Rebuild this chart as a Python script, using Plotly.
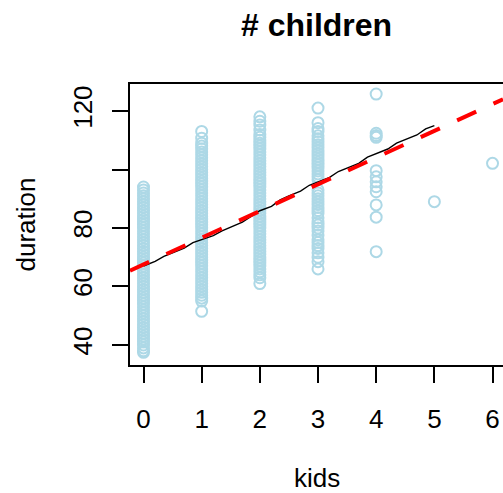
import plotly.graph_objects as go

# kids = 0..6, duration values
dur_k0 = [37.5, 38, 39, 40, 41, 42, 43, 44, 45, 46, 47, 48, 49, 50, 51, 52, 53, 54, 55, 56,
          57, 58, 59, 60, 61, 62, 63, 64, 65, 66, 67, 68, 69, 70, 71, 72, 73, 74, 75, 76,
          77, 78, 79, 80, 81, 82, 83, 84, 85, 86, 87, 88, 89, 90, 91, 92, 93, 94]
dur_k1 = [51.5, 55, 56, 57, 58, 59, 60, 61, 62, 63, 64, 65, 66, 67, 68, 69, 70, 71, 72, 73,
          74, 75, 76, 77, 78, 79, 80, 81, 82, 83, 84, 85, 86, 87, 88, 89, 90, 91, 92, 93,
          94, 95, 96, 97, 98, 99, 100, 101, 102, 103, 104, 105, 106, 107, 108, 109, 110.7, 113]
dur_k2 = [61, 63, 64, 65, 66, 67, 68, 69, 70, 71, 72, 73, 74, 75, 76, 77, 78, 79, 80, 81,
          82, 83, 84, 85, 86, 87, 88, 89, 90, 91, 92, 93, 94, 95, 96, 97, 98, 99, 100, 101,
          102, 103, 104, 105, 106, 107, 108, 109, 110, 111, 112, 113.5, 115.2, 116.5, 118]
dur_k3 = [66, 68.5, 70, 71.5, 73, 74, 75, 76, 77.5, 79, 80, 81, 82, 83.5, 85, 86, 87, 88, 89,
          90, 91, 92, 93, 96.5, 97.5, 98.5, 99.5, 100.5, 101.5, 102.5, 103.5, 104.5, 105.5,
          106.5, 107.5, 108.5, 109.5, 110.5, 111.5, 113, 114, 116, 121]
dur_k4 = [125.8, 112.4, 111.6, 111.0, 99.6, 97.5, 95.8, 94.1, 92.4, 87.9, 83.7, 71.9]
dur_k5 = [89.0]
dur_k6 = [102.1]

# smooth (black) curve
smooth_x = [0, 0.2, 0.35, 0.5, 0.7, 0.85, 1.0, 1.2, 1.35, 1.5, 1.7, 1.85, 2.0, 2.2, 2.35, 2.5,
            2.7, 2.85, 3.0, 3.2, 3.35, 3.5, 3.7, 3.85, 4.0, 4.2, 4.35, 4.5, 4.7, 4.85, 5.0]
smooth_y = [67.0, 68.6, 70.3, 71.6, 73.1, 75.0, 76.1, 77.4, 79.0, 80.4, 82.0, 84.0, 85.9, 87.4,
            89.6, 91.0, 92.6, 94.6, 95.8, 97.3, 99.3, 100.4, 102.1, 104.2, 105.5, 107.0, 109.0,
            110.1, 111.8, 113.9, 115.0]

# linear fit (red dashed)
fit_x = [-0.232, 6.18]
fit_y = [65.4, 124.0]

x_ticks = [0, 1, 2, 3, 4, 5, 6]
y_ticks = [40, 60, 80, 100, 120]
y_ticktext = ["40", "60", "80", "", "120"]

groups = [(0, dur_k0), (1, dur_k1), (2, dur_k2), (3, dur_k3), (4, dur_k4), (5, dur_k5), (6, dur_k6)]
px, py = [], []
for k, vals in groups:
    px += [k] * len(vals)
    py += vals

FONT = "Liberation Sans, Arial, Helvetica, sans-serif"

fig = go.Figure()
fig.add_trace(go.Scatter(x=px, y=py, mode="markers",
                         marker=dict(symbol="circle-open", size=11, color="#ADD8E6",
                                     line=dict(width=2, color="#ADD8E6")),
                         hoverinfo="skip"))
fig.add_trace(go.Scatter(x=smooth_x, y=smooth_y, mode="lines",
                         line=dict(color="black", width=1.4), hoverinfo="skip"))
fig.add_trace(go.Scatter(x=fit_x, y=fit_y, mode="lines",
                         line=dict(color="#FF0000", width=4, dash="21px,19px"), hoverinfo="skip"))

fig.update_layout(
    width=503, height=493,
    margin=dict(l=130, r=0, t=84, b=128),
    paper_bgcolor="white", plot_bgcolor="white",
    showlegend=False,
    font=dict(family=FONT, size=26, color="black"),
    xaxis=dict(range=[-0.232, 6.18], tickvals=x_ticks, ticks="outside", ticklen=16, tickwidth=1.5,
               tickcolor="black", showline=True, linecolor="black", linewidth=1.5, mirror=True,
               showgrid=False, zeroline=False, ticklabelstandoff=14,
               tickfont=dict(size=26)),
    yaxis=dict(range=[33.16, 129.23], tickvals=y_ticks, ticktext=y_ticktext, ticks="outside",
               ticklen=16, tickwidth=1.5, tickcolor="black", showline=True, linecolor="black",
               linewidth=1.5, mirror=False, showgrid=False, zeroline=False, tickangle=-90,
               ticklabelstandoff=10, tickfont=dict(size=26)),
    annotations=[
        dict(text="<b># children</b>", xref="paper", yref="paper", x=0.5, y=1, yshift=59,
             showarrow=False, font=dict(size=32), xanchor="center", yanchor="middle"),
        dict(text="kids", xref="paper", yref="paper", x=0.5, y=0, yshift=-113,
             showarrow=False, font=dict(size=26), xanchor="center", yanchor="middle"),
        dict(text="duration", xref="paper", yref="paper", x=0, y=0.5, xshift=-105,
             showarrow=False, font=dict(size=26), textangle=-90, xanchor="center", yanchor="middle"),
    ],
)

fig.write_html("out.html", config={"displayModeBar": False})
